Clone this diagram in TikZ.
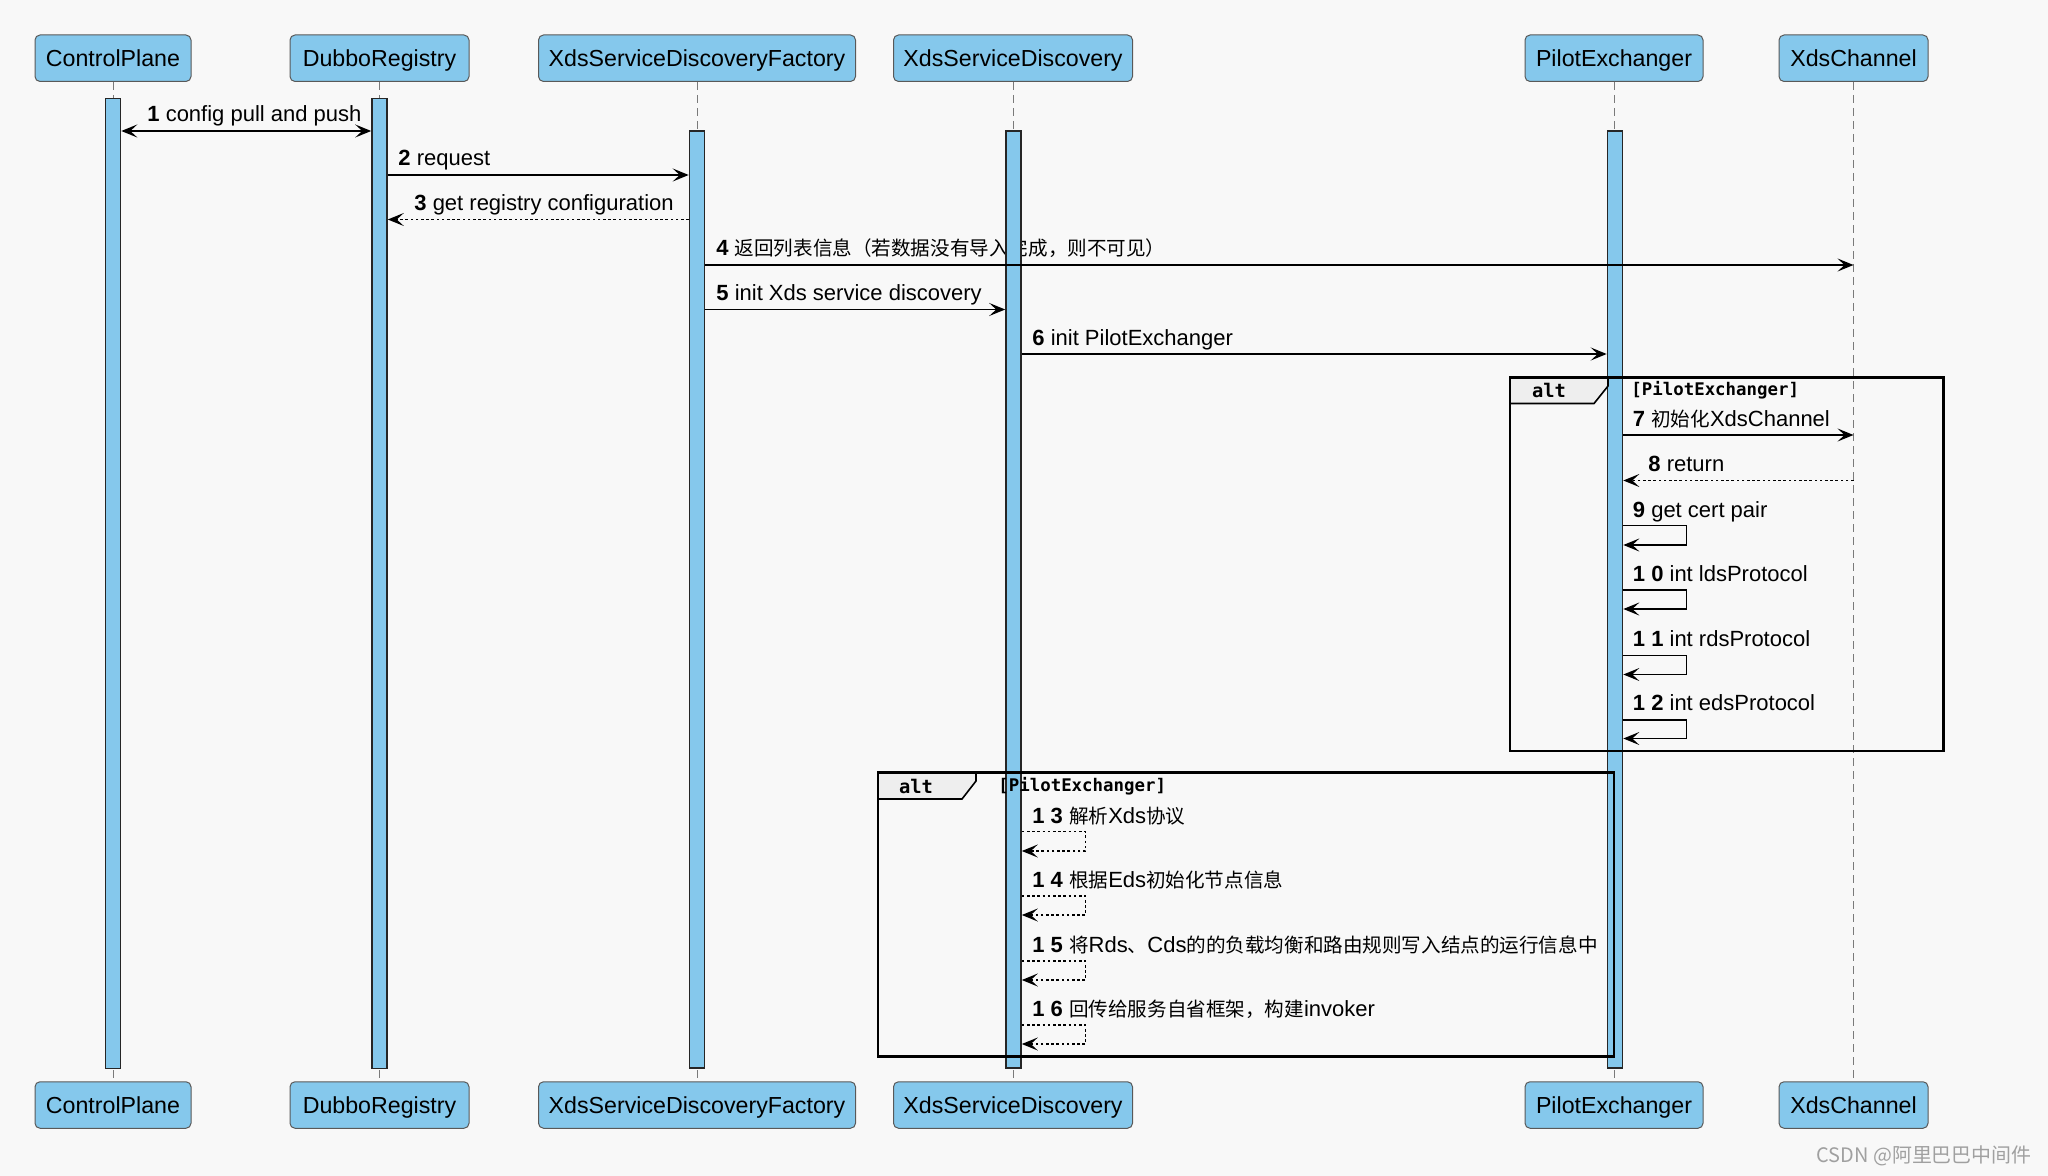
\documentclass[tikz,border=0pt]{standalone}
\usepackage{fontspec}
\setmainfont{Liberation Sans}
\newfontfamily\cjk[Scale=0.89]{Noto Sans CJK SC}
\newfontfamily\guardfont{DejaVu Sans Mono}
\usetikzlibrary{arrows.meta}
\definecolor{bgc}{HTML}{F8F8F8}
\definecolor{boxblue}{HTML}{85C8EC}
\definecolor{lifegray}{HTML}{7A7A7A}
\definecolor{tabgray}{HTML}{EEEEEE}
\definecolor{wmgray}{HTML}{A0A0A0}
\newcommand\zh[1]{{\cjk #1}}
\tikzset{
  actor/.style={draw=black!65, fill=boxblue, rounded corners=2.5pt, minimum height=23.25pt,
    inner sep=0pt, text height=10.3pt, text depth=2pt, line width=0.5pt,
    font=\fontsize{11.6pt}{13pt}\selectfont},
  lifeline/.style={draw=lifegray, line width=0.5pt, dash pattern=on 4pt off 2.5pt},
  actbar/.style={draw=black!85, fill=boxblue, line width=0.8pt, minimum width=7.5pt, inner sep=0pt},
  tip/.tip={Stealth[length=8pt,width=6.5pt,inset=3.5pt]},
  msg/.style={draw=black, line width=0.75pt, -tip},
  bimsg/.style={draw=black, line width=0.75pt, tip-tip},
  reply/.style={msg, dash pattern=on 1.3pt off 1.3pt},
  lbl/.style={anchor=base west, inner sep=0pt, font=\fontsize{11pt}{13pt}\selectfont},
  frm/.style={draw=black, line width=1.2pt},
  tabshape/.style={fill=tabgray, draw=black, line width=0.8pt},
  guard/.style={anchor=west, inner sep=0pt, font=\guardfont\bfseries\fontsize{8.7pt}{10pt}\selectfont},
  alttext/.style={inner sep=0pt, font=\guardfont\bfseries\fontsize{9.4pt}{11pt}\selectfont},
}
\begin{document}
\begin{tikzpicture}[x=0.5pt,y=-0.5pt]
\fill[bgc] (0,0) rectangle (2048,1176);
\useasboundingbox (0,0) rectangle (2048,1176);

% participants (top)
\node[actor, minimum width=78pt]   (cpT) at (113,58.25)  {ControlPlane};
\node[actor, minimum width=89.5pt] (drT) at (379.5,58.25) {DubboRegistry};
\node[actor, minimum width=158.5pt](xfT) at (697,58.25)  {XdsServiceDiscoveryFactory};
\node[actor, minimum width=119.5pt](xdT) at (1013,58.25) {XdsServiceDiscovery};
\node[actor, minimum width=89pt]   (peT) at (1614,58.25) {PilotExchanger};
\node[actor, minimum width=74.5pt] (xcT) at (1853.5,58.25) {XdsChannel};
% participants (bottom)
\node[actor, minimum width=78pt]   (cpB) at (113,1105)  {ControlPlane};
\node[actor, minimum width=89.5pt] (drB) at (379.5,1105) {DubboRegistry};
\node[actor, minimum width=158.5pt](xfB) at (697,1105)  {XdsServiceDiscoveryFactory};
\node[actor, minimum width=119.5pt](xdB) at (1013,1105) {XdsServiceDiscovery};
\node[actor, minimum width=89pt]   (peB) at (1614,1105) {PilotExchanger};
\node[actor, minimum width=74.5pt] (xcB) at (1853.5,1105) {XdsChannel};

% lifelines
\foreach \p in {cp,dr,xf,xd,pe,xc}{\draw[lifeline] (\p T.south) -- (\p B.north);}

% message levels
\coordinate (y1) at (0,131);
\coordinate (y2) at (0,175);
\coordinate (y3) at (0,219.5);
\coordinate (y4) at (0,265);
\coordinate (y5) at (0,309.5);
\coordinate (y6) at (0,354);
\coordinate (y7) at (0,435);
\coordinate (y8) at (0,480.5);

% labels drawn below the activation bars
\node[lbl] (t1) at (147,122) {\textbf{1} config pull and push};
\node[lbl] (t2) at (398,166) {\textbf{2} request};
\node[lbl] (t3) at (414,210.5) {\textbf{3} get registry configuration};
\node[lbl] (t4) at (716,256) {\textbf{4} \zh{返回列表信息（若数据没有导入完成，则不可见）}};
\node[lbl] (t5) at (716,300.5) {\textbf{5} init Xds service discovery};
\node[lbl] (t6) at (1032,345) {\textbf{6} init PilotExchanger};
\node[lbl] (t7) at (1632.5,426) {\textbf{7} \zh{初始化}XdsChannel};
\node[lbl] (t8) at (1648,471.5) {\textbf{8} return};
\node[lbl] (t9) at (1632.5,517) {\textbf{9} get cert pair};
\node[lbl] (t10) at (1632.5,581.5) {\textbf{1 0} int ldsProtocol};
\node[lbl] (t11) at (1632.5,646.5) {\textbf{1 1} int rdsProtocol};
\node[lbl] (t12) at (1632.5,710.5) {\textbf{1 2} int edsProtocol};
\node[lbl] (t13) at (1032,823.5) {\textbf{1 3} \zh{解析}Xds\zh{协议}};
\node[lbl] (t14) at (1032,887.5) {\textbf{1 4} \zh{根据}Eds\zh{初始化节点信息}};
\node[lbl] (t15) at (1032,952.5) {\textbf{1 5} \zh{将}Rds\zh{、}Cds\zh{的的负载均衡和路由规则写入结点的运行信息中}};
\node[lbl] (t16) at (1032,1016.5) {\textbf{1 6} \zh{回传给服务自省框架，构建}invoker};

% activation bars
\node[actbar, minimum height=485pt]   (cpBar) at (113,583.5) {};
\node[actbar, minimum height=485pt]   (drBar) at (379.5,583.5) {};
\node[actbar, minimum height=468.7pt] (xfBar) at (697,599.5) {};
\node[actbar, minimum height=468.7pt] (xdBar) at (1013.5,599.5) {};
\node[actbar, minimum height=468.7pt] (peBar) at (1615,599.5) {};

% messages
\draw[bimsg] (cpBar.east |- y1) -- (drBar.west |- y1);
\draw[msg]   (drBar.east |- y2) -- (xfBar.west |- y2);
\draw[reply] (xfBar.west |- y3) -- (drBar.east |- y3);
\draw[msg]   (xfBar.east |- y4) -- (xcT.south |- y4);
\draw[msg]   (xfBar.east |- y5) -- (xdBar.west |- y5);
\draw[msg]   (xdBar.east |- y6) -- (peBar.west |- y6);
\draw[msg]   (peBar.east |- y7) -- (xcT.south |- y7);
\draw[reply] (xcT.south |- y8) -- (peBar.east |- y8);

% self calls on PilotExchanger
\foreach \a/\b in {525.5/545, 590/609, 655.5/674.5, 720/738.5}{
  \coordinate (la) at (0,\a); \coordinate (lb) at (0,\b);
  \draw[msg] (peBar.east |- la) -- (1686.5,\a) -- (1686.5,\b) -- (peBar.east |- lb);
}
% self calls on XdsServiceDiscovery
\foreach \a/\b in {831.5/851, 896/915, 961/980, 1025/1044}{
  \coordinate (la) at (0,\a); \coordinate (lb) at (0,\b);
  \draw[reply] (xdBar.east |- la) -- (1085.5,\a) -- (1085.5,\b) -- (xdBar.east |- lb);
}

% alt frame 1
\draw[tabshape] (1510,377.5) -- (1608,377.5) -- (1608,386) -- (1594,403.5) -- (1510,403.5) -- cycle;
\draw[frm] (1510,377.5) rectangle (1943.5,751);
\node[alttext] (alt1) at (1549,390.5) {alt};
\node[guard] (g1) at (1631,390.5) {[PilotExchanger]};

% alt frame 2
\draw[tabshape] (878,772.5) -- (976,772.5) -- (976,781) -- (962,799) -- (878,799) -- cycle;
\draw[frm] (878,772.5) rectangle (1614,1056.5);
\node[alttext] (alt2) at (916,786) {alt};
\node[guard] (g2) at (998,786) {[PilotExchanger]};

% watermark
\node[anchor=east, inner sep=0pt, text=wmgray, font=\cjk\fontsize{11.2pt}{13pt}\selectfont] (wm) at (2032,1156) {CSDN @阿里巴巴中间件};
\end{tikzpicture}
\end{document}
